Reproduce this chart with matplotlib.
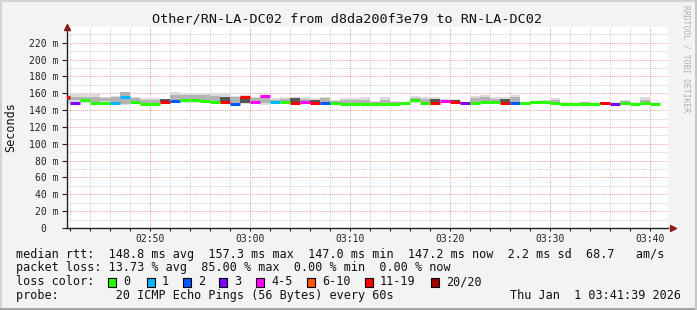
import numpy as np
import matplotlib
matplotlib.use("Agg")
import matplotlib.pyplot as plt
from matplotlib.patches import Rectangle
from matplotlib.lines import Line2D

W, H = 697, 310
MONO = "DejaVu Sans Mono"

# one slot per minute, minutes after 02:42 (slot -1 is cut by the left edge)
minutes = list(range(-1, 59))

median_ms = [155.9, 148.8, 152.0, 148.8, 148.1, 148.8, 155.9, 149.6, 147.0, 147.3,
             149.6, 151.2, 152.0, 152.0, 150.8, 149.6, 149.6, 147.3, 155.9, 149.6,
             157.3, 150.0, 149.6, 148.8, 149.6, 148.8, 148.8, 148.8, 147.6, 147.6,
             147.6, 147.6, 147.6, 147.6, 148.0, 152.0, 148.8, 148.8, 150.4, 150.0,
             148.8, 148.8, 150.0, 150.0, 148.8, 148.8, 148.8, 150.0, 149.3, 148.1,
             147.3, 147.3, 147.6, 147.6, 148.1, 147.3, 148.8, 147.3, 148.8, 147.2]

# lost pings out of 20
loss = [13, 3, 0, 0, 0, 1, 1, 0, 0, 0,
        12, 2, 0, 0, 0, 0, 14, 2, 17, 4,
        5, 1, 0, 12, 4, 11, 2, 0, 0, 0,
        0, 0, 0, 0, 0, 0, 0, 13, 5, 12,
        3, 0, 0, 0, 11, 2, 0, 0, 0, 0,
        0, 0, 0, 0, 12, 3, 0, 0, 0, 0]

smoke_hi = [160.7, 160.7, 158.8, 158.8, 155.2, 157.2, 161.9, 156.0, 154.0, 154.0,
            153.2, 161.1, 159.9, 159.9, 160.7, 159.9, 159.9, 156.8, 158.0, 156.0,
            158.0, 154.0, 155.2, 156.0, 155.2, 154.0, 156.0, 152.0, 154.0, 154.0,
            156.0, 151.2, 156.0, 151.2, 149.6, 156.8, 155.2, 155.2, 152.8, 152.8,
            150.0, 156.8, 158.4, 155.2, 155.2, 158.0, 150.0, 151.2, 152.0, 154.4,
            148.5, 148.5, 149.6, 148.8, 149.6, 148.1, 152.0, 148.5, 156.0, 148.5]
smoke_lo = [147.3, 147.3, 148.1, 147.7, 147.3, 147.7, 146.1, 147.3, 146.9, 146.9,
            147.3, 148.8, 149.6, 149.6, 149.6, 148.8, 148.8, 146.9, 147.3, 148.8,
            146.1, 149.2, 148.8, 148.1, 148.8, 148.1, 148.1, 148.1, 147.3, 147.3,
            147.3, 147.3, 147.3, 147.3, 147.3, 148.1, 148.1, 148.1, 149.6, 149.6,
            148.1, 148.1, 149.2, 149.2, 148.1, 148.1, 148.1, 149.2, 148.5, 146.5,
            146.9, 146.9, 147.3, 147.3, 147.3, 146.9, 148.1, 146.9, 147.3, 146.9]
core_hi = [156.0, 156.0, 156.0, 156.0, 154.0, 155.2, 161.1, 154.0, 152.0, 152.0,
           153.2, 158.0, 158.0, 158.0, 158.0, 157.2, 156.0, 156.0, 156.0, 154.0,
           156.8, 152.0, 153.2, 154.0, 153.2, 152.0, 154.0, 150.4, 152.0, 152.0,
           152.0, 149.6, 152.0, 149.6, 149.2, 154.0, 153.2, 153.2, 152.0, 152.0,
           149.6, 154.4, 155.2, 153.2, 153.2, 155.2, 149.6, 150.8, 151.2, 152.0,
           148.1, 148.1, 149.2, 148.5, 149.2, 147.7, 150.8, 148.1, 152.0, 148.1]
core_lo = [152.0, 152.0, 150.4, 150.0, 150.4, 150.0, 147.3, 149.6, 148.1, 148.1,
           150.0, 151.2, 152.0, 152.0, 152.0, 151.2, 150.0, 148.1, 148.1, 150.4,
           148.1, 150.0, 150.0, 149.6, 150.0, 148.8, 149.2, 148.5, 148.1, 148.1,
           148.1, 147.7, 147.7, 147.7, 147.7, 149.2, 149.2, 149.2, 150.0, 150.0,
           148.5, 149.2, 150.4, 150.4, 149.2, 149.2, 148.5, 149.6, 148.8, 147.3,
           147.3, 147.3, 147.7, 147.7, 147.7, 147.3, 148.5, 147.3, 149.2, 147.3]

tick_minutes = [8, 18, 28, 38, 48, 58]
tick_labels = ["02:50", "03:00", "03:10", "03:20", "03:30", "03:40"]
ms_ticks = [0, 20, 40, 60, 80, 100, 120, 140, 160, 180, 200, 220]
ms_labels = ["0  ", "20 m", "40 m", "60 m", "80 m", "100 m", "120 m",
             "140 m", "160 m", "180 m", "200 m", "220 m"]

loss_names = ["0", "1", "2", "3", "4-5", "6-10", "11-19", "20/20"]
loss_colors = ["#26ff00", "#00b8ff", "#0059ff", "#7e00ff", "#ff00ff",
               "#ff5500", "#ff0000", "#a10000"]
loss_edges = [1, 2, 3, 4, 6, 11, 20]

stats_line = "median rtt:  148.8 ms avg  157.3 ms max  147.0 ms min  147.2 ms now  2.2 ms sd  68.7   am/s"
loss_line = "packet loss: 13.73 % avg  85.00 % max  0.00 % min  0.00 % now"
probe_line = "probe:        20 ICMP Echo Pings (56 Bytes) every 60s"
stamp = "Thu Jan  1 03:41:39 2026"


def fx(x):
    return x / W


def fy(y):
    return 1 - y / H


fig = plt.figure(figsize=(W / 100, H / 100), dpi=100, facecolor="#f3f3f3")

# frame round the picture
fig.add_artist(Line2D([0, 1], [fy(1), fy(1)], color="#d4d4d4", lw=1.5))
fig.add_artist(Line2D([fx(1), fx(1)], [0, 1], color="#d4d4d4", lw=1.5))
fig.add_artist(Line2D([0, 1], [fy(308.5), fy(308.5)], color="#a6a6a6", lw=2.2))
fig.add_artist(Line2D([fx(695.5), fx(695.5)], [0, 1], color="#c8c8c8", lw=2.2))

ax = fig.add_axes([fx(66.7), fy(228), fx(668 - 66.7), (228 - 27) / H])
ax.set_facecolor("white")

t = np.array(minutes)
cols = [loss_colors[i] for i in np.digitize(loss, loss_edges)]
core_cols = ["#565656" if l >= 11 else "#b3b3b3" for l in loss]

ax.bar(t, np.array(smoke_hi) - np.array(smoke_lo), bottom=smoke_lo, width=1,
       align="edge", color="#dcdcdc", linewidth=0, zorder=2)
ax.bar(t, np.array(core_hi) - np.array(core_lo), bottom=core_lo, width=1,
       align="edge", color=core_cols, linewidth=0, zorder=3)
ax.hlines(median_ms, t, t + 1, colors=cols, lw=2.2, zorder=4, capstyle="butt")

ax.set_xlim(-0.33, 59.8)
ax.set_ylim(0, 238.7)

ax.set_xticks(tick_minutes)
ax.set_xticklabels(tick_labels)
ax.set_xticks(range(0, 60, 2), minor=True)
ax.set_yticks(ms_ticks)
ax.set_yticklabels(ms_labels)
ax.set_yticks(range(10, 235, 10), minor=True)

ax.grid(which="minor", color="#cfcfcf", ls=(0, (1, 1)), lw=0.7)
ax.grid(which="major", color="#f0a0a0", ls=(0, (1, 1)), lw=0.7)
ax.set_axisbelow(True)

for s in ["top", "right"]:
    ax.spines[s].set_visible(False)
for s in ["left", "bottom"]:
    ax.spines[s].set_color("#202020")
    ax.spines[s].set_linewidth(1.0)

ax.tick_params(axis="both", which="both", direction="out", color="#202020", width=0.8)
ax.tick_params(axis="y", which="major", length=3.6, pad=2.5)
ax.tick_params(axis="y", which="minor", length=0)
ax.tick_params(axis="x", which="major", length=2.5, pad=2)
ax.tick_params(axis="x", which="minor", length=1.8)
for lab in ax.get_xticklabels() + ax.get_yticklabels():
    lab.set_fontfamily(MONO)
    lab.set_fontsize(7)
    lab.set_color("#222222")

# axis arrows
ax.plot([0], [1], transform=ax.transAxes, marker="^", ms=4.5, color="#8b1a1a",
        clip_on=False, zorder=6)
ax.plot([1.008], [0], transform=ax.transAxes, marker=">", ms=4.5, color="#8b1a1a",
        clip_on=False, zorder=6)

fig.text(fx(347.5), fy(19), "Other/RN-LA-DC02 from d8da200f3e79 to RN-LA-DC02",
         ha="center", va="center", family=MONO, fontsize=9.7, color="#111111")
fig.text(fx(11), fy(127), "Seconds", rotation=90, ha="center", va="center",
         family=MONO, fontsize=8.5, color="#111111")
fig.text(fx(686), fy(5), "RRDTOOL / TOBI OETIKER", rotation=-90, ha="center",
         va="top", family=MONO, fontsize=5.8, color="#b0b0b0")

fig.text(fx(16), fy(258), stats_line, family=MONO, fontsize=8.5, va="baseline", color="#111111")
fig.text(fx(16), fy(271.5), loss_line, family=MONO, fontsize=8.5, va="baseline", color="#111111")
fig.text(fx(16), fy(285.3), "loss color:", family=MONO, fontsize=8.5, va="baseline", color="#111111")
fig.text(fx(16), fy(299.3), probe_line, family=MONO, fontsize=8.5, va="baseline", color="#111111")
fig.text(fx(681), fy(299.3), stamp, family=MONO, fontsize=8.5, va="baseline", ha="right",
         color="#111111")

box_x = [108, 146.7, 182.7, 219, 256, 307, 365, 431]
for bx, name, c in zip(box_x, loss_names, loss_colors):
    fig.add_artist(Rectangle((fx(bx), fy(286.7)), 8.4 / W, 8.4 / H,
                             transform=fig.transFigure, facecolor=c,
                             edgecolor="black", lw=0.8))
    fig.text(fx(bx + 15), fy(285.3), name, family=MONO, fontsize=8.5,
             va="baseline", color="#111111")

fig.savefig("out.png", dpi=100, facecolor=fig.get_facecolor())
